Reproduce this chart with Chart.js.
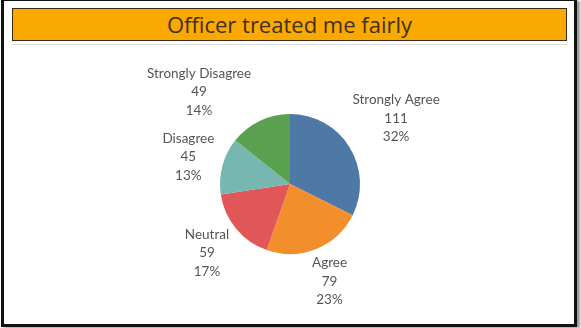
<!DOCTYPE html>
<html>
<head>
<meta charset="utf-8">
<title>Officer treated me fairly</title>
<script src="https://cdn.jsdelivr.net/npm/chart.js@4.4.0/dist/chart.umd.min.js"></script>
<style>
  html, body {
    margin: 0;
    padding: 0;
    width: 581px;
    height: 328px;
    overflow: hidden;
    background: #fff;
  }
  #frame {
    position: absolute;
    left: 1px;
    top: 0;
    width: 570px;
    height: 323px;
    border: 3px solid #111;
    border-top-width: 1px;
    box-shadow: 3px 1px 2px #9a9a9a;
    background: #fff;
  }
  #title {
    position: absolute;
    left: 12px;
    top: 8px;
    width: 553px;
    height: 31px;
    border: 1px solid #3b2a12;
    background: #fba800;
    color: #3d3222;
    font-family: "Open Sans", sans-serif;
    font-size: 22px;
    line-height: 31px;
    text-align: center;
  }
  #rule {
    position: absolute;
    left: 12px;
    top: 44px;
    width: 555px;
    height: 1px;
    background: #dcdcdc;
  }
  #chart {
    position: absolute;
    left: 0;
    top: 0;
  }
</style>
</head>
<body>
<div id="frame"></div>
<div id="title">Officer treated me fairly</div>
<div id="rule"></div>
<canvas id="chart" width="581" height="328"></canvas>
<script>
// Survey responses, clockwise from 12 o'clock
const categories = ["Strongly Agree", "Agree", "Neutral", "Disagree", "Strongly Disagree"];
const counts = [111, 79, 59, 45, 49];
const colors = ["#4e79a7", "#f28e2b", "#e15759", "#76b7b2", "#59a14f"];

const total = counts.reduce((a, b) => a + b, 0);

// Three-line labels (name / count / share) placed just outside each slice.
// A label that would run above the pane top is swung toward the horizontal.
const outsideLabels = {
  id: "outsideLabels",
  afterDatasetsDraw(chart, args, opts) {
    const ctx = chart.ctx;
    const meta = chart.getDatasetMeta(0);
    const lineH = opts.lineHeight;
    ctx.save();
    ctx.font = opts.font;
    ctx.fillStyle = opts.color;
    ctx.textAlign = "center";
    ctx.textBaseline = "middle";
    meta.data.forEach((arc, i) => {
      const { x, y, startAngle, endAngle, outerRadius } = arc.getProps(
        ["x", "y", "startAngle", "endAngle", "outerRadius"], true);
      const lines = [
        categories[i],
        String(counts[i]),
        Math.round(counts[i] / total * 100) + "%"
      ];
      const w = Math.max(...lines.map(t => ctx.measureText(t).width));
      const h = lines.length * lineH;

      const place = (a) => {
        const dx = Math.cos(a);
        const dy = Math.sin(a);
        const dist = outerRadius + opts.gap + Math.abs(dx) * w / 2 + Math.abs(dy) * h / 2;
        return { cx: x + dx * dist, cy: y + dy * dist };
      };

      let a = (startAngle + endAngle) / 2;
      let p = place(a);
      const target = Math.cos(a) < 0 ? Math.PI : 0;
      let guard = 0;
      while (p.cy - h / 2 < opts.minTop && guard < 90) {
        a += (target - a) > 0 ? Math.PI / 180 : -Math.PI / 180;
        p = place(a);
        guard++;
      }

      lines.forEach((t, k) => {
        ctx.fillText(t, p.cx, p.cy - h / 2 + lineH / 2 + k * lineH);
      });
    });
    ctx.restore();
  }
};

new Chart(document.getElementById("chart"), {
  type: "pie",
  data: {
    labels: categories,
    datasets: [{
      data: counts,
      backgroundColor: colors,
      borderWidth: 0
    }]
  },
  options: {
    responsive: false,
    animation: false,
    layout: {
      padding: { left: 220, right: 221, top: 114, bottom: 74 }
    },
    plugins: {
      legend: { display: false },
      tooltip: { enabled: false },
      outsideLabels: {
        font: "13.5px Lato, sans-serif",
        color: "#555",
        lineHeight: 18.5,
        gap: 3,
        minTop: 64
      }
    }
  },
  plugins: [outsideLabels]
});
</script>
</body>
</html>
